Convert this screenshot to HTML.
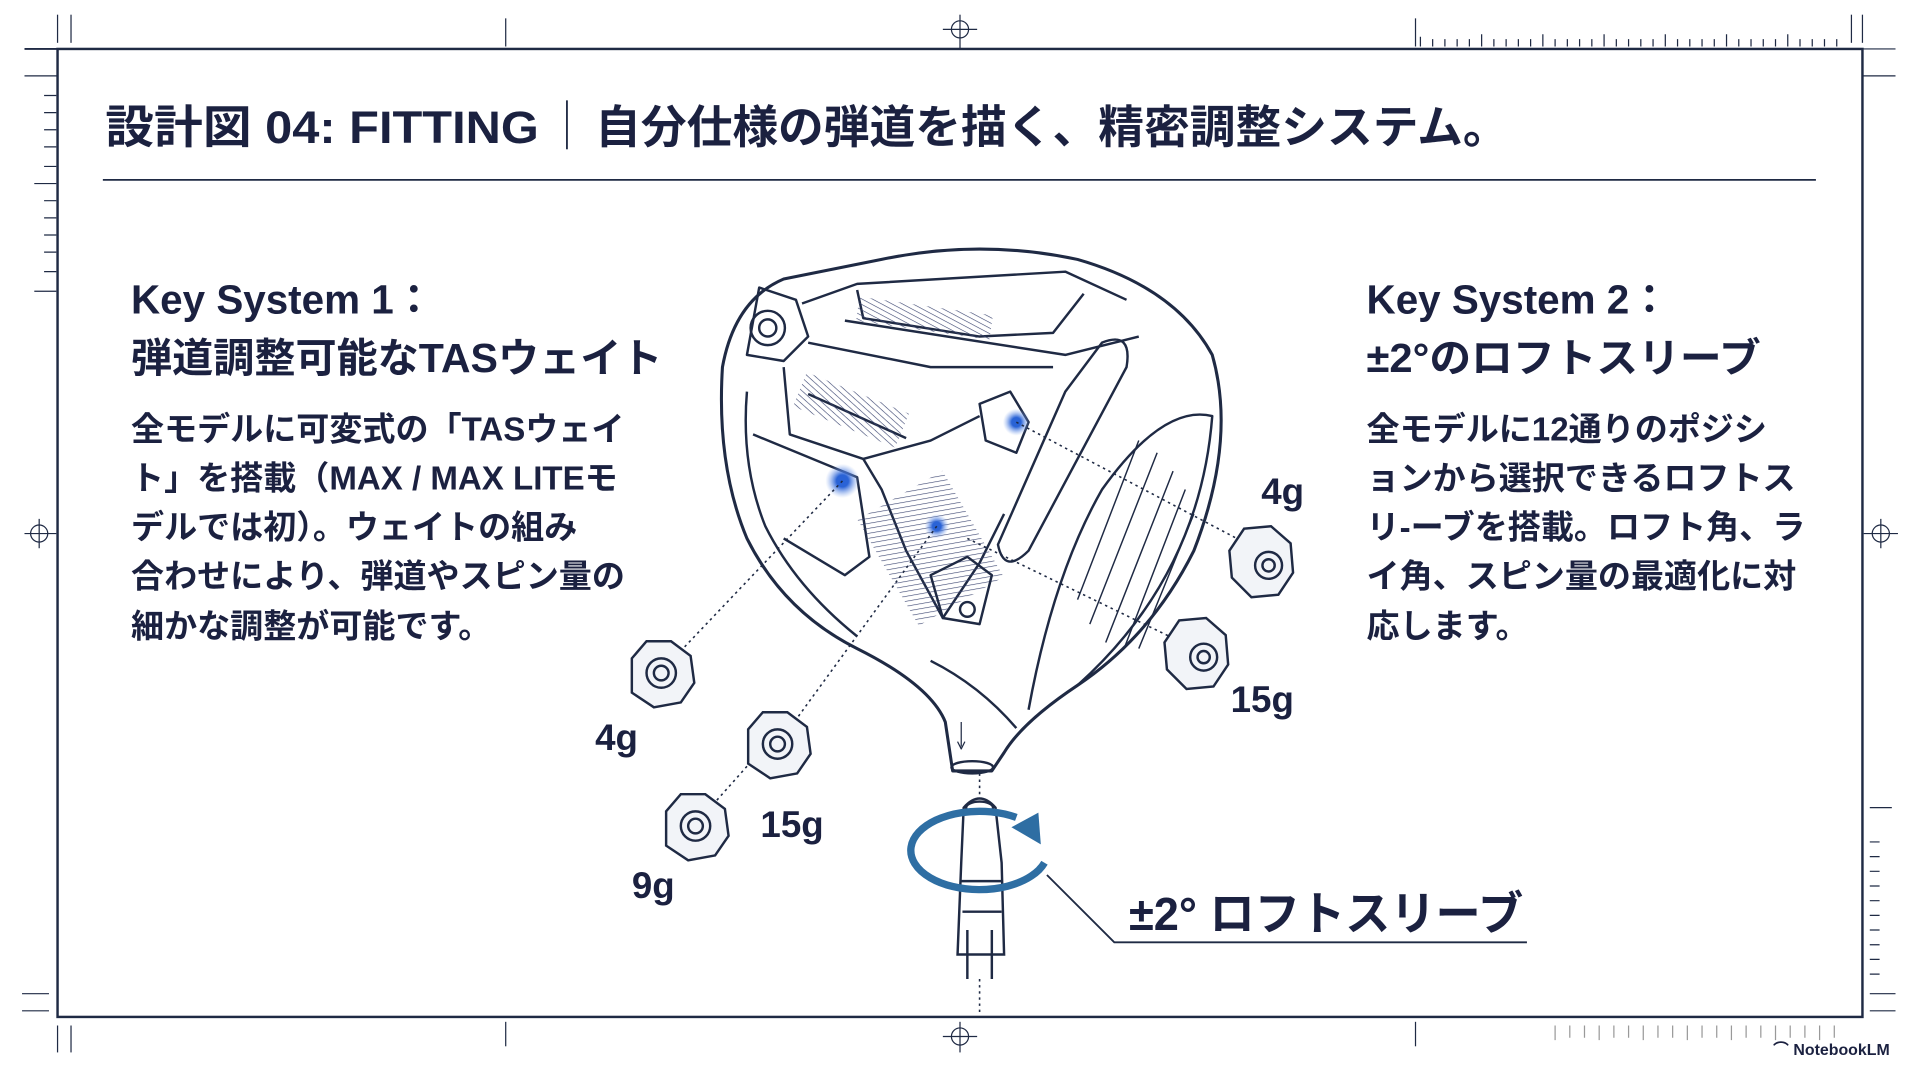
<!DOCTYPE html>
<html><head><meta charset="utf-8"><style>
html,body{margin:0;padding:0;background:#fff;width:1920px;height:1072px;overflow:hidden}
svg{display:block}
text{font-family:"Liberation Sans","Noto Sans CJK JP",sans-serif;font-weight:bold;fill:#1b2140}
</style></head><body>
<svg width="1920" height="1072" viewBox="0 0 1568 876" preserveAspectRatio="none">
<defs>
<radialGradient id="g"><stop offset="0" stop-color="#2a63d6"/><stop offset="0.35" stop-color="#2a63d6"/><stop offset="1" stop-color="#8fb0f0" stop-opacity="0"/></radialGradient>
<pattern id="h" width="4" height="4" patternUnits="userSpaceOnUse" patternTransform="rotate(20)"><line x1="0" y1="0" x2="4" y2="0" stroke="#3a4570" stroke-width="1"/></pattern>
</defs>
<g stroke="#1f2a44" fill="none">
<rect x="47" y="40" width="1474" height="791" stroke-width="2"/>
<line x1="20" y1="40" x2="47" y2="40" stroke-width="1.5"/><line x1="20" y1="62" x2="47" y2="62"/>
<line x1="1521" y1="40" x2="1548" y2="40"/><line x1="1521" y1="62" x2="1548" y2="62"/>
<line x1="47" y1="12" x2="47" y2="35"/><line x1="58" y1="12" x2="58" y2="35"/>
<line x1="1512" y1="12" x2="1512" y2="35"/><line x1="1521" y1="12" x2="1521" y2="35"/>
<line x1="413" y1="15" x2="413" y2="38"/><line x1="1156" y1="15" x2="1156" y2="38"/>
<circle cx="784" cy="24" r="7"/><line x1="770" y1="24" x2="798" y2="24"/><line x1="784" y1="12" x2="784" y2="40"/>
<circle cx="784" cy="847" r="7"/><line x1="770" y1="847" x2="798" y2="847"/><line x1="784" y1="835" x2="784" y2="860"/>
<circle cx="32" cy="436" r="7"/><line x1="20" y1="436" x2="46" y2="436"/><line x1="32" y1="424" x2="32" y2="448"/>
<circle cx="1536" cy="436" r="7"/><line x1="1522" y1="436" x2="1550" y2="436"/><line x1="1536" y1="424" x2="1536" y2="448"/>
<line x1="47" y1="838" x2="47" y2="860"/><line x1="58" y1="838" x2="58" y2="860"/><line x1="413" y1="835" x2="413" y2="855"/><line x1="1156" y1="835" x2="1156" y2="855"/>
<line x1="18" y1="812" x2="40" y2="812"/><line x1="18" y1="826" x2="40" y2="826"/>
<line x1="1527" y1="812" x2="1548" y2="812"/><line x1="1527" y1="826" x2="1548" y2="826"/>
<line x1="28" y1="150" x2="46" y2="150"/><line x1="28" y1="238" x2="46" y2="238"/><line x1="1527" y1="660" x2="1545" y2="660"/>
<path d="M1160 38v-8M1170 38v-6M1180 38v-6M1190 38v-6M1200 38v-6M1210 38v-10M1220 38v-6M1230 38v-6M1240 38v-6M1250 38v-6M1260 38v-10M1270 38v-6M1280 38v-6M1290 38v-6M1300 38v-6M1310 38v-10M1320 38v-6M1330 38v-6M1340 38v-6M1350 38v-6M1360 38v-10M1370 38v-6M1380 38v-6M1390 38v-6M1400 38v-6M1410 38v-10M1420 38v-6M1430 38v-6M1440 38v-6M1450 38v-6M1460 38v-10M1470 38v-6M1480 38v-6M1490 38v-6M1500 38v-6" stroke-width="1"/>
<path d="M1270 838v12M1282 838v10M1294 838v10M1306 838v12M1318 838v10M1330 838v10M1342 838v12M1354 838v10M1366 838v10M1378 838v12M1390 838v10M1402 838v10M1414 838v12M1426 838v10M1438 838v10M1450 838v12M1462 838v10M1474 838v10M1486 838v12M1498 838v10" stroke="#999" stroke-width="1"/>
<path d="M36 78h10M36 92h10M36 106h10M36 120h10M36 136h10M36 164h10M36 178h10M36 192h10M36 206h10M36 222h10" stroke-width="1"/>
<path d="M1527 688h8M1527 700h8M1527 712h8M1527 724h8M1527 736h8M1527 748h8M1527 760h8M1527 772h8M1527 784h8M1527 796h8" stroke-width="1"/>
<line x1="84" y1="147" x2="1483" y2="147" stroke-width="1.5"/>
<line x1="463" y1="82" x2="463" y2="122" stroke-width="1.5"/>
</g>
<text x="86" y="117" font-size="37" textLength="354" lengthAdjust="spacingAndGlyphs">設計図 04: FITTING</text>
<text x="486" y="117" font-size="37" textLength="746" lengthAdjust="spacingAndGlyphs">自分仕様の弾道を描く、精密調整システム。</text>
<text x="107" y="256" font-size="33">Key System 1：</text>
<text x="107" y="304" font-size="33" textLength="434" lengthAdjust="spacingAndGlyphs">弾道調整可能なTASウェイト</text>
<g font-size="27">
<text x="107" y="360">全モデルに可変式の「TASウェイ</text>
<text x="107" y="400">ト」を搭載（MAX / MAX LITEモ</text>
<text x="107" y="440">デルでは初）。ウェイトの組み</text>
<text x="107" y="480">合わせにより、弾道やスピン量の</text>
<text x="107" y="521">細かな調整が可能です。</text>
<text x="1116" y="360">全モデルに12通りのポジシ</text>
<text x="1116" y="400">ョンから選択できるロフトス</text>
<text x="1116" y="440">リ-ーブを搭載。ロフト角、ラ</text>
<text x="1116" y="480">イ角、スピン量の最適化に対</text>
<text x="1116" y="521">応します。</text>
</g>
<text x="1116" y="256" font-size="33">Key System 2：</text>
<text x="1116" y="304" font-size="33" textLength="322" lengthAdjust="spacingAndGlyphs">±2°のロフトスリーブ</text>
<!-- club head -->
<g stroke="#1f2a44" stroke-width="2" fill="none" stroke-linejoin="round">
<path d="M590 300 Q600 245 640 228 L720 212 Q800 195 880 212 Q960 235 990 290 Q1010 360 975 450 Q940 520 880 560 Q835 590 820 615 L810 630 L778 630 L772 590 Q760 560 700 530 Q640 500 610 440 Q585 380 590 300 Z" stroke-width="2.5"/>
<path d="M700 520 Q650 480 625 430 Q605 380 610 320"/>
<path d="M830 595 Q800 560 760 540"/>
<path d="M620 235 L650 245 L660 275 L640 295 L610 290 Z"/>
<circle cx="627" cy="268" r="14"/><circle cx="627" cy="268" r="7"/>
<path d="M655 248 L700 232 L870 222 L920 245"/>
<path d="M700 237 L705 260 L800 275 L860 272 L885 240"/>
<path d="M690 262 L870 290 L930 275"/>
<path d="M660 280 L760 300 L860 300"/>
<path d="M640 300 L645 355 L705 375 L760 360 L800 340"/>
<path d="M615 355 L700 390 L710 455 L690 470 L640 440"/>
<path d="M705 375 L720 400 L740 450 L770 505 L800 460 L820 420"/>
<rect x="720" y="398" width="80" height="100" fill="url(#h)" stroke="none" transform="rotate(-30 760 448)"/>
<path d="M660 322 L740 358" fill="none"/>
<rect x="650" y="320" width="90" height="30" fill="url(#h)" stroke="none" transform="rotate(22 695 335)"/>
<rect x="700" y="250" width="110" height="20" fill="url(#h)" stroke="none" transform="rotate(8 755 260)"/>
<path d="M800 330 L825 320 L840 345 L830 370 L805 360 Z"/>
<path d="M900 280 Q925 270 920 300 L840 450 Q820 470 815 445 L870 320 Z"/>
<path d="M880 560 Q980 470 990 340 Q950 330 900 400 Q860 470 840 580"/>
<path d="M930 360l-50 130M945 370l-55 140M958 385l-55 140M968 400l-50 130M975 420l-45 110" stroke-width="1.2"/>
<path d="M760 470 L790 455 L810 470 L800 510 L770 505 Z"/>
<circle cx="790" cy="498" r="6"/>
<ellipse cx="794" cy="627" rx="17" ry="5"/>
<path d="M785 590 v20 M782 606 l3 6 l3 -6" stroke-width="1"/>
</g>
<circle cx="688" cy="393" r="14" fill="url(#g)"/><circle cx="765" cy="430" r="10" fill="url(#g)"/><circle cx="830" cy="345" r="11" fill="url(#g)"/>
<g stroke="#1f2a44" stroke-width="1.3" stroke-dasharray="2 3" fill="none">
<line x1="688" y1="393" x2="553" y2="535"/><line x1="765" y1="430" x2="645" y2="595"/><line x1="620" y1="615" x2="580" y2="660"/>
<line x1="830" y1="345" x2="1010" y2="440"/><line x1="790" y1="440" x2="955" y2="520"/>
<line x1="800" y1="632" x2="800" y2="655"/><line x1="800" y1="800" x2="800" y2="830"/>
</g>
<!-- weights -->
<g stroke="#1f2a44" stroke-width="2" fill="#f2f4f8">
<g transform="translate(540 550)"><path d="M-24 -12 L-12 -26 L8 -26 L24 -14 L27 8 L16 24 L-6 28 L-24 16 Z"/><circle r="12" fill="none"/><circle r="6" fill="none"/></g>
<g transform="translate(635 608)"><path d="M-24 -12 L-12 -26 L8 -26 L24 -14 L27 8 L16 24 L-6 28 L-24 16 Z"/><circle r="12" fill="none"/><circle r="6" fill="none"/></g>
<g transform="translate(568 675)"><path d="M-24 -12 L-12 -26 L8 -26 L24 -14 L27 8 L16 24 L-6 28 L-24 16 Z"/><circle r="12" fill="none"/><circle r="6" fill="none"/></g>
<g transform="translate(1030 458)"><path d="M-26 -8 L-14 -26 L8 -28 L24 -14 L26 10 L14 28 L-8 30 L-24 14 Z"/><circle cx="6" cy="4" r="11" fill="none"/><circle cx="6" cy="4" r="5" fill="none"/></g>
<g transform="translate(977 533)"><path d="M-26 -8 L-14 -26 L8 -28 L24 -14 L26 10 L14 28 L-8 30 L-24 14 Z"/><circle cx="6" cy="4" r="11" fill="none"/><circle cx="6" cy="4" r="5" fill="none"/></g>
</g>
<g font-size="30">
<text x="486" y="613">4g</text><text x="621" y="684">15g</text><text x="516" y="734">9g</text>
<text x="1030" y="412">4g</text><text x="1005" y="582">15g</text>
</g>
<!-- sleeve -->
<g stroke="#1f2a44" stroke-width="2" fill="#fff">
<path d="M787 660 Q800 645 813 660 L818 705 L820 780 L782 780 L785 705 Z"/>
<ellipse cx="800" cy="660" rx="11" ry="5"/>
<path d="M784 720 h34 M786 745 h32 M790 760 v40 M810 760 v40" fill="none"/>
</g>
<path d="M830 668 A56 32 0 1 0 853 705" fill="none" stroke="#2e6ea3" stroke-width="6"/>
<path d="M826 676 L848 664 L850 690 Z" fill="#2e6ea3"/>
<path d="M855 715 L910 770 L1247 770" fill="none" stroke="#1f2a44" stroke-width="1.5"/>
<text x="922" y="760" font-size="38" textLength="322" lengthAdjust="spacingAndGlyphs">±2° ロフトスリーブ</text>
<text x="1448" y="862" font-size="13">⌒ NotebookLM</text>
</svg>
</body></html>
